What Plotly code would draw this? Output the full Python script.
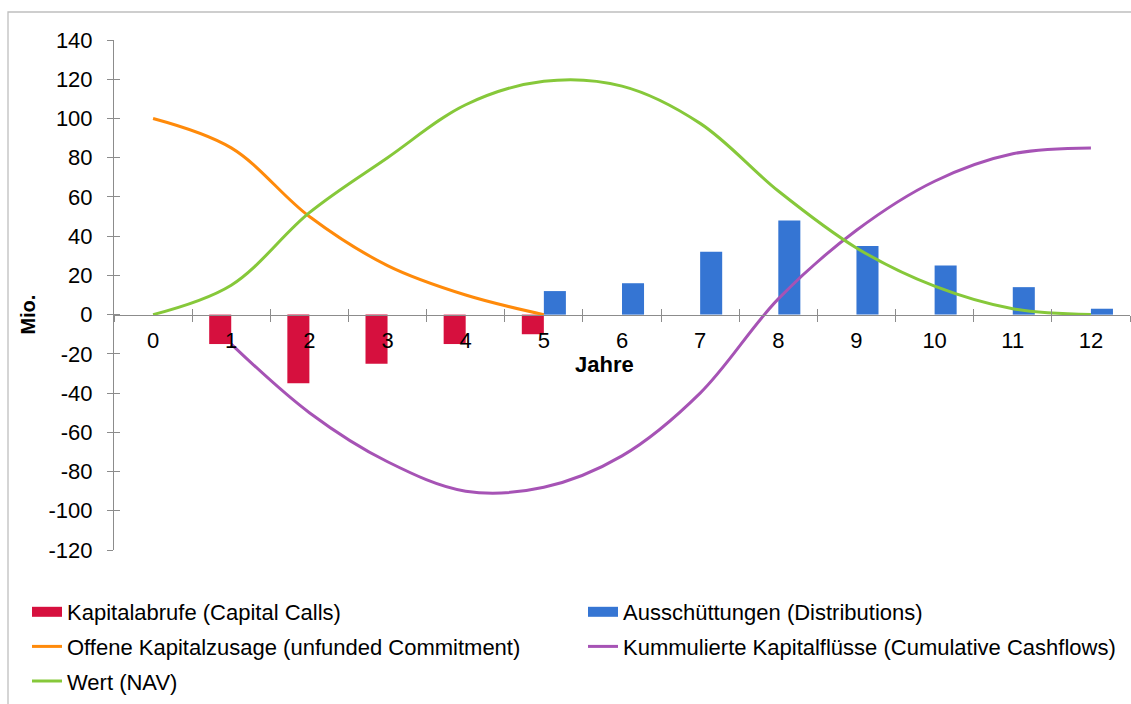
import plotly.graph_objects as go

years = [str(i) for i in range(13)]
capital_calls = [None, -15, -35, -25, -15, -10, None, None, None, None, None, None, None]
distributions = [None, None, None, None, None, 12, 16, 32, 48, 35, 25, 14, 3]
unfunded = [100, 85, 50, 25, 10, 0, None, None, None, None, None, None, None]
cumulative = [None, -15, -50, -75, -90, -88, -72, -40, 8, 43, 68, 82, 85]
nav = [0, 15, 52, 80, 107, 119, 116.5, 97.5, 63, 34, 14.5, 3, 0]
y_ticks = list(range(-120, 141, 20))
y_ticktext = [str(v) for v in y_ticks]

RED = "#D6103E"
BLUE = "#3575D3"
ORANGE = "#FF8A0A"
PURPLE = "#A653B5"
GREEN = "#86C83A"
AXIS = "#8C8C8C"
FONT = "Liberation Sans, Arial, sans-serif"
FS = 22

L, R, T, B = 114, 1, 40, 154
W, H = 1131, 704
PW, PH = W - L - R, H - T - B

def px_x(p):
    return (p - L) / PW

def px_y(p):
    return (H - B - p) / PH

fig = go.Figure()
fig.add_bar(x=years, y=capital_calls, marker=dict(color=RED, line=dict(width=0)),
            showlegend=False, name="Kapitalabrufe (Capital Calls)")
fig.add_bar(x=years, y=distributions, marker=dict(color=BLUE, line=dict(width=0)),
            showlegend=False, name="Ausschüttungen (Distributions)")
lw = 3
# legend proxies for the bar series (wide rectangle symbol)
fig.add_scatter(x=[None], y=[None], mode="lines", line=dict(color=RED, width=11),
                name="Kapitalabrufe (Capital Calls)", legend="legend", legendgroup="g1")
fig.add_scatter(x=[None], y=[None], mode="lines", line=dict(color=BLUE, width=11),
                name="Ausschüttungen (Distributions)", legend="legend2", legendgroup="g2")
fig.add_scatter(x=years, y=unfunded, mode="lines", line=dict(color=ORANGE, width=lw, shape="spline", smoothing=1),
                name="Offene Kapitalzusage (unfunded Commitment)", legend="legend", legendgroup="g3")
fig.add_scatter(x=years, y=cumulative, mode="lines", line=dict(color=PURPLE, width=lw, shape="spline", smoothing=1),
                name="Kummulierte Kapitalflüsse (Cumulative Cashflows)", legend="legend2", legendgroup="g4")
fig.add_scatter(x=years, y=nav, mode="lines", line=dict(color=GREEN, width=lw, shape="spline", smoothing=1),
                name="Wert (NAV)", legend="legend", legendgroup="g5")

zero_frac = 120 / 260

common_leg = dict(orientation="v", traceorder="grouped", tracegroupgap=3,
                  font=dict(family=FONT, size=FS, color="#000000"),
                  xanchor="left", yanchor="top", bgcolor="rgba(0,0,0,0)",
                  itemwidth=30)
ly = px_y(591)

fig.update_layout(
    width=W, height=H,
    margin=dict(l=L, r=R, t=T, b=B, pad=0, autoexpand=False),
    paper_bgcolor="white", plot_bgcolor="white",
    barmode="group", bargap=0.436, bargroupgap=0,
    font=dict(family=FONT, size=FS, color="#000000"),
    xaxis=dict(type="category", categoryorder="array", categoryarray=years,
               range=[-0.5, 12.5], anchor="free", position=zero_frac,
               showline=True, linecolor=AXIS, linewidth=1,
               ticks="outside", ticklen=6, tickcolor=AXIS, tickwidth=1,
               tickson="boundaries", showgrid=False, zeroline=False,
               tickfont=dict(family=FONT, size=FS, color="#000000"),
               ticklabelstandoff=6),
    xaxis2=dict(type="category", categoryorder="array", categoryarray=years,
                range=[-0.5, 12.5], overlaying="x", anchor="free", position=zero_frac,
                showline=False, ticks="inside", ticklen=6, tickcolor=AXIS, tickwidth=1,
                tickson="boundaries", showticklabels=False, showgrid=False, zeroline=False),
    yaxis=dict(range=[-120, 140], tickvals=y_ticks, ticktext=y_ticktext,
               showline=True, linecolor=AXIS, linewidth=1,
               ticks="outside", ticklen=6, tickcolor=AXIS, tickwidth=1,
               showgrid=False, zeroline=False,
               tickfont=dict(family=FONT, size=FS, color="#000000"),
               ticklabelstandoff=10),
    yaxis2=dict(range=[-120, 140], tickvals=y_ticks, overlaying="y", anchor="x",
                showline=False, ticks="inside", ticklen=6, tickcolor=AXIS, tickwidth=1,
                showticklabels=False, showgrid=False, zeroline=False),
    legend=dict(common_leg, x=px_x(27), y=ly),
    legend2=dict(common_leg, x=px_x(583), y=ly),
    annotations=[
        dict(text="<b>Jahre</b>", xref="paper", yref="y", x=px_x(604), y=-25.2,
             showarrow=False, font=dict(family=FONT, size=FS, color="#000000"),
             xanchor="center", yanchor="middle"),
        dict(text="<b>Mio.</b>", xref="paper", yref="y", x=px_x(28), y=0,
             showarrow=False, textangle=-90, font=dict(family=FONT, size=20, color="#000000"),
             xanchor="center", yanchor="middle"),
    ],
    shapes=[dict(type="rect", xref="paper", yref="paper",
                 x0=px_x(8), x1=px_x(1140), y0=px_y(720), y1=px_y(12),
                 line=dict(color="#BFBFBF", width=1.3), fillcolor="rgba(0,0,0,0)", layer="below")],
)
# dummy trace to activate overlay axes for the cross ticks
fig.add_scatter(x=[years[0]], y=[None], xaxis="x2", yaxis="y2", showlegend=False, hoverinfo="skip")

fig.write_html("out.html")
